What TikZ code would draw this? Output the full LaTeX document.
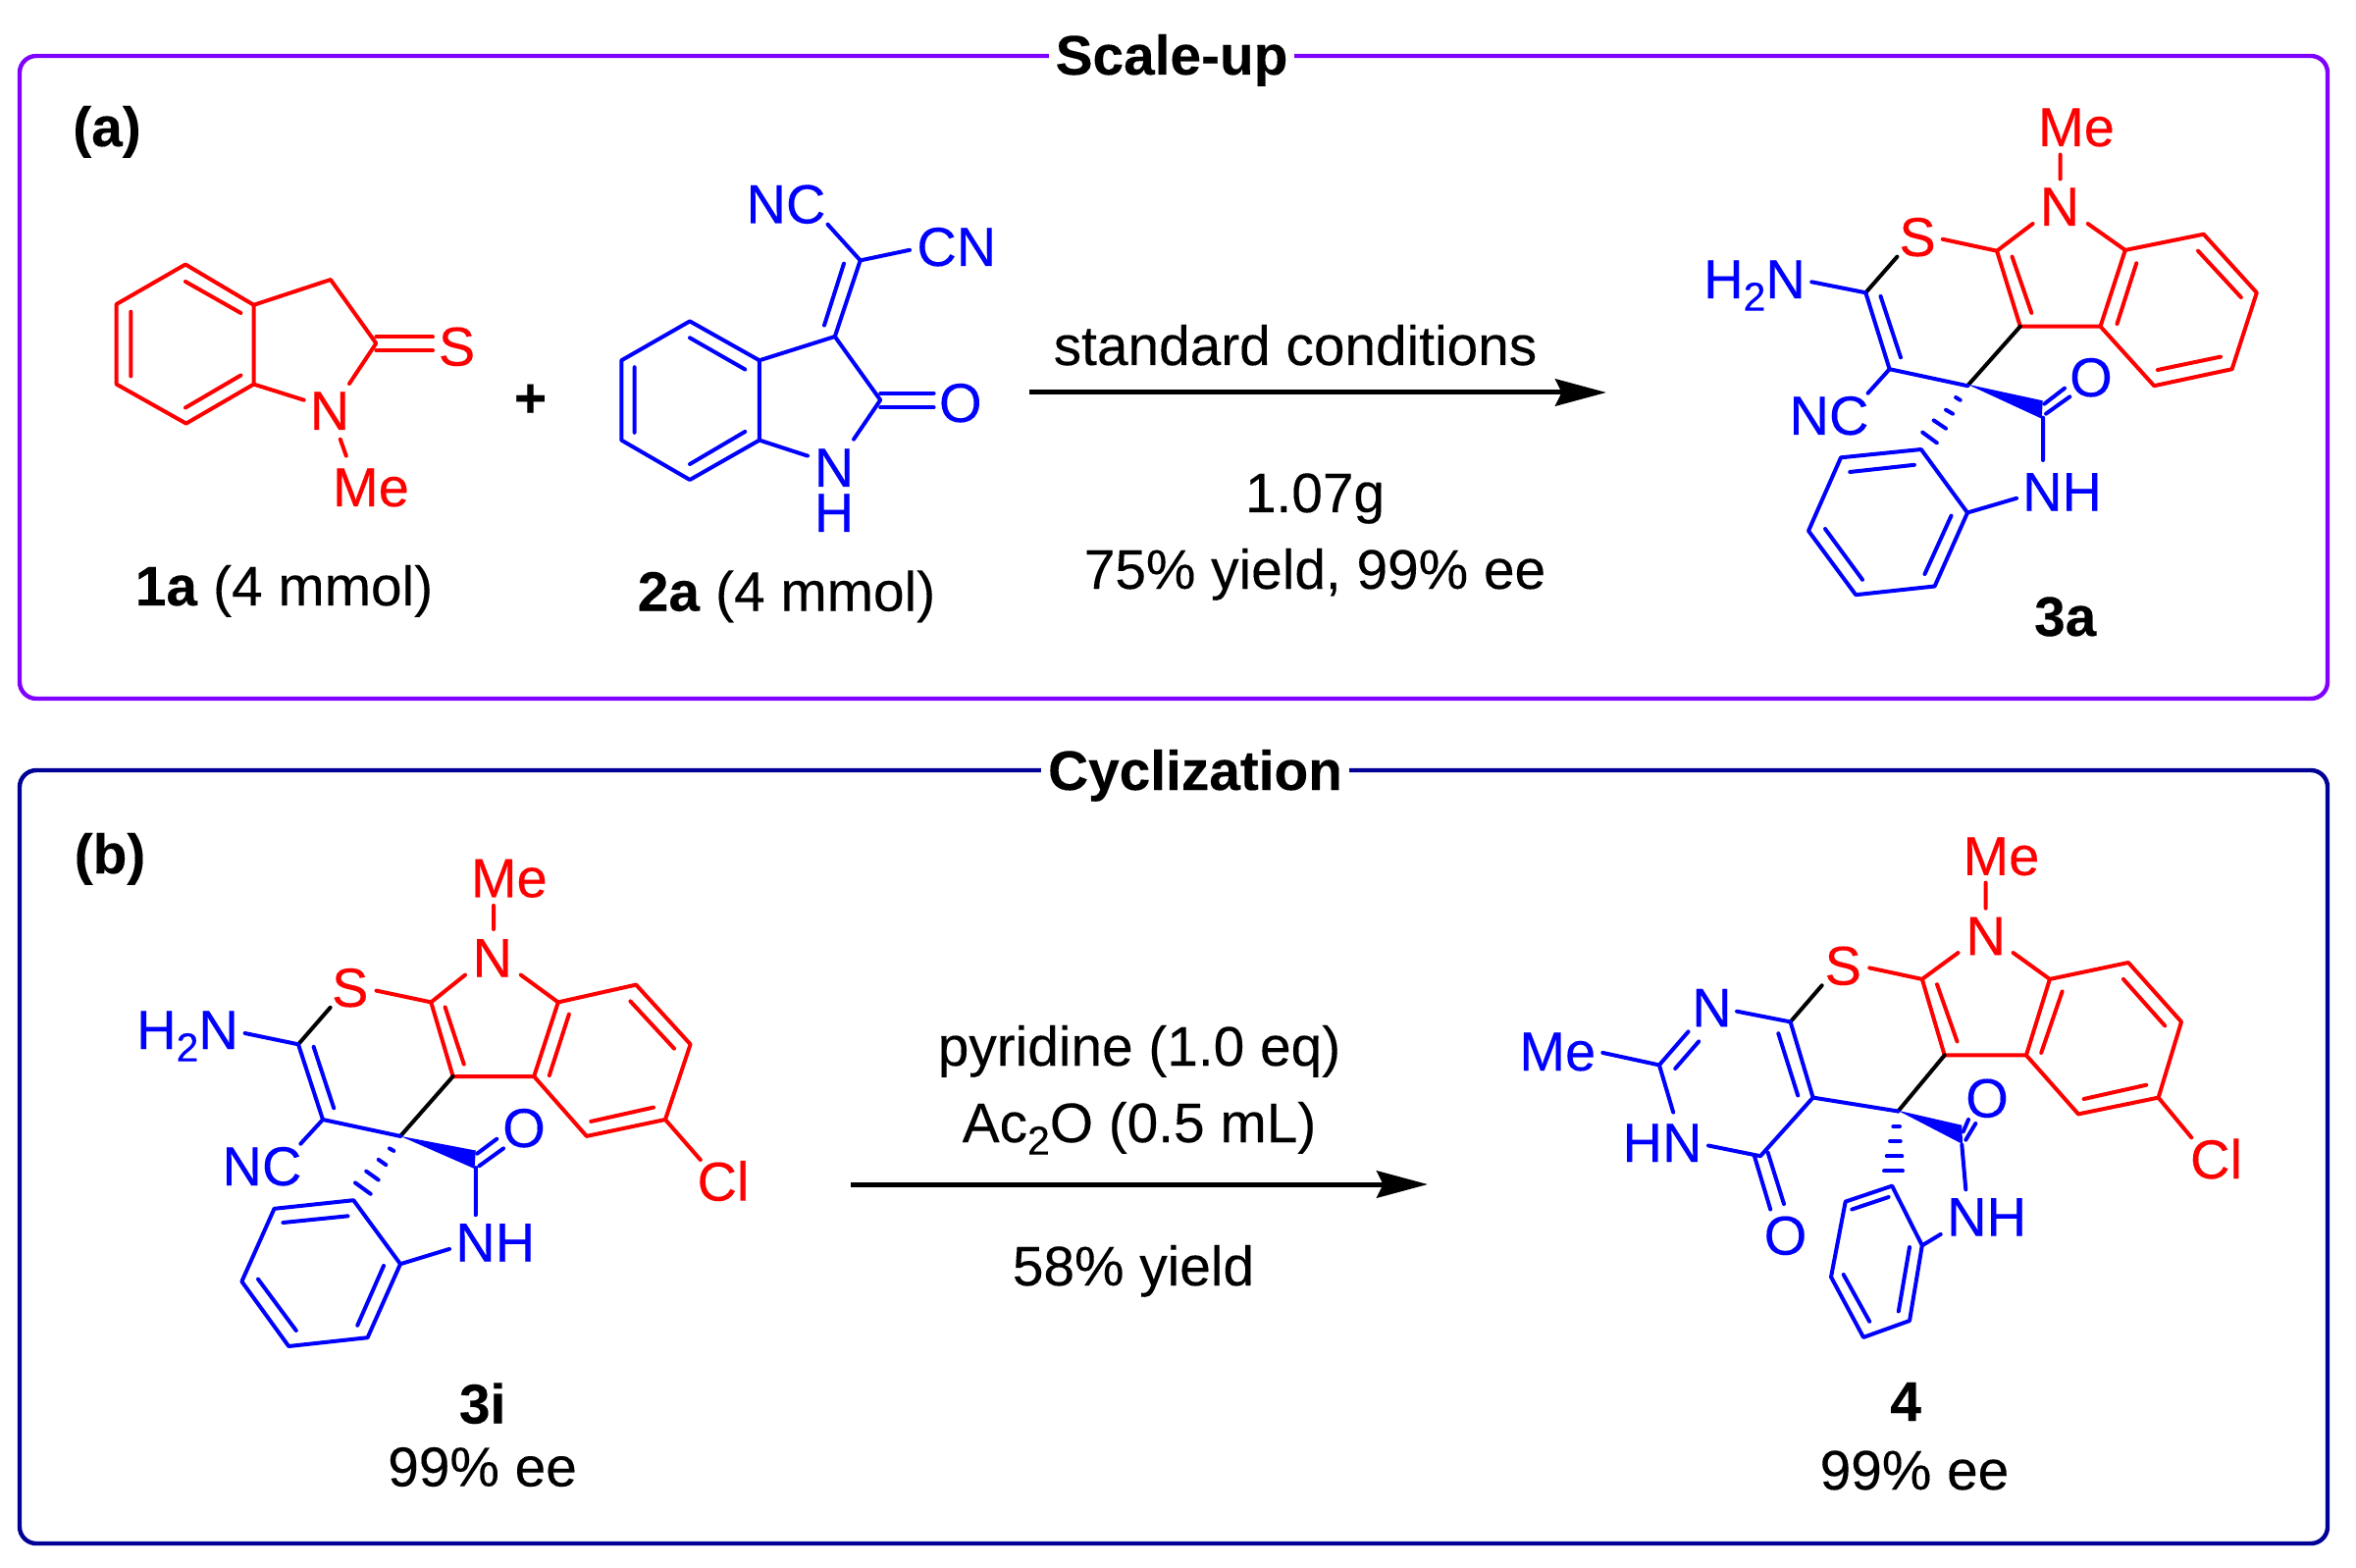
\documentclass[tikz,border=0pt]{standalone}
\usepackage{fontspec}
\setmainfont{Liberation Sans}[FakeBold=0.2]
\usetikzlibrary{arrows.meta}
\definecolor{framea}{RGB}{128,0,255}
\definecolor{frameb}{RGB}{0,0,150}
\definecolor{chemred}{RGB}{255,0,0}
\definecolor{chemblue}{RGB}{0,0,255}
\newcommand{\subdigit}[1]{\raisebox{-6.3pt}{\fontsize{20.5}{24}\selectfont #1}}
\tikzset{
  redbond/.style={draw=chemred,line width=2pt,line join=round,line cap=round},
  bluebond/.style={draw=chemblue,line width=2pt,line join=round,line cap=round},
  blackbond/.style={draw=black,line width=2pt,line cap=round},
  boxframe/.style={line width=2.2pt,rounded corners=8.5pt},
  txt/.style={inner sep=0pt,text height=20pt,text depth=0pt,font=\fontsize{28.4}{34}\selectfont},
  boldtxt/.style={txt,font=\fontsize{28.4}{34}\selectfont\bfseries},
  redatom/.style={txt,text=chemred,font=\fontsize{28}{33}\selectfont},
  blueatom/.style={txt,text=chemblue,font=\fontsize{28}{33}\selectfont},
  boxtitle/.style={boldtxt,fill=white,inner xsep=3.5pt,inner ysep=0pt},
  rxnarrow/.style={line width=2.5pt,-{Stealth[length=26pt,width=13.7pt,inset=3.3pt]}}
}
\begin{document}
\begin{tikzpicture}[x=0.5pt,y=0.5pt,yscale=-1,xscale=1]
\useasboundingbox (0,0) rectangle (2401,1598);
%Shape: frames
\draw [boxframe,framea] (20,57) rectangle (2372,712);
\draw [boxframe,frameb] (20,785) rectangle (2372,1573);
\node [boxtitle] (titlea) at (1194,56) {Scale-up};
\node [boxtitle] (titleb) at (1218,785) {Cyclization};
\node [boldtxt] (parta) at (109,129) {(a)};
\node [boldtxt] (partb) at (112,870) {(b)};
%Shape: compound 1a
\draw [redbond] (189,269.5) -- (118.7,310) -- (118.7,391.6) -- (189.7,431.6) -- (258.6,391.6) -- (258.6,310.8) -- cycle;
\draw [redbond] (189,287) -- (245.4,319) (133.3,317.7) -- (133.3,383.4) (189,415.5) -- (245.4,382.5);
\draw [redbond] (258.6,310.8) -- (336.9,285) -- (383.3,349.9) -- (356,391);
\draw [redbond] (258.6,391.6) -- (309.7,407.7) (346.8,447.7) -- (352.8,464.6);
\draw [redbond] (383.3,343.4) -- (441,343.4) (383.3,357.2) -- (441,357.2);
\node [redatom] (n1a) at (336,418) {N};
\node [redatom] (s1a) at (465.5,352.6) {S};
\node [redatom] (me1a) at (378,496) {Me};
\node [txt] (plus) at (540.5,405) {\textbf{+}};
\node [txt] (label1a) at (289.5,597) {\textbf{1a} (4 mmol)};
%Shape: compound 2a
\draw [bluebond] (703,327.4) -- (633.3,367.3) -- (633.3,448.6) -- (703,489) -- (773.9,448.6) -- (773.9,367.3) -- cycle;
\draw [bluebond] (703,344.3) -- (759.3,376.5) (646.6,374.2) -- (646.6,440.8) (703,473) -- (759.3,439.9);
\draw [bluebond] (773.9,367.3) -- (850.8,343) -- (897.2,407.7) -- (870,447.7) (773.9,448.6) -- (823,464.6);
\draw [bluebond] (850.8,343) -- (876.7,265.4) -- (843.5,228.7) (876.7,265.4) -- (927,254.8) (860,268.6) -- (840,331.5);
\draw [bluebond] (897.2,400.8) -- (951.6,400.8) (897.2,415.5) -- (951.6,415.5);
\node [blueatom] (nc2a) at (801,207.5) {NC};
\node [blueatom] (cn2a) at (974.8,251) {CN};
\node [blueatom] (o2a) at (978.8,410) {O};
\node [blueatom] (n2a) at (850,476) {N};
\node [blueatom] (h2a) at (850,522) {H};
\node [txt] (label2a) at (801.5,602.5) {\textbf{2a} (4 mmol)};
%Shape: arrow a
\coordinate (arrowastart) at (1049,400);
\coordinate (arrowaend) at (1637,400);
\draw [rxnarrow] (arrowastart) -- (arrowaend);
\node [txt] (conda) at (1320,352) {standard conditions};
\node [txt] (massa) at (1340,502) {1.07g};
\node [txt] (yielda) at (1340,580) {75\% yield, 99\% ee};
%Shape: compound 3a
\draw [redbond] (2035,255.7) -- (2058.8,332.7) -- (2140.5,332.7) -- (2165.8,254.9) -- (2245.7,238.7) -- (2299.8,298.3) -- (2274.6,376.2) -- (2195.2,393.2) -- (2140.5,332.7);
\draw [redbond] (1979.8,243.8) -- (2035,255.7) -- (2071.6,228) (2127.7,228) -- (2165.8,254.9) (2099.6,157.6) -- (2099.6,182.5);
\draw [redbond] (2050.5,261.6) -- (2070.3,318.9) (2177.2,268.3) -- (2157.5,330) (2240,255.7) -- (2283.8,303) (2263,363.6) -- (2198.8,377);
\draw [blackbond] (1901.3,298.3) -- (1933.4,261.6) (2005,393.2) -- (2058.8,332.7);
\draw [bluebond] (1846.2,287.3) -- (1901.3,298.3) -- (1925.6,376.2) -- (2005,393.2) (1925.6,376.2) -- (1903.6,400.7) (1916.5,301.9) -- (1937,364.3);
\fill [chemblue] (2005,391.7) -- (2081.7,408.3) -- (2080.7,426.7) -- cycle;
\draw [bluebond] (2083.3,411.7) -- (2104,395.7) (2085,421.7) -- (2109.3,404.3) (2082,425.6) -- (2082,469);
\draw [bluebond] (1993.1,405) -- (1997.7,407.8) (1983,417.7) -- (1990,421.7) (1970.6,428.4) -- (1983,436.7) (1959.2,440.6) -- (1973.8,451.3);
\draw [bluebond] (1957.8,458) -- (2005,522.5) -- (1971.6,597.5) -- (1891.2,606.2) -- (1843,541) -- (1876,466.3) -- cycle;
\draw [bluebond] (2005,522.5) -- (2055,507.8) (1885.2,481) -- (1950.9,473.8) (1860,539) -- (1898,590.8) (1988.5,525.6) -- (1961.5,585);
\node [redatom] (me3a) at (2116,129) {Me};
\node [redatom] (n3a) at (2099,210) {N};
\node [redatom] (s3a) at (1954,241) {S};
\node [blueatom] (nh23a) at (1788,284) {H\subdigit{2}N};
\node [blueatom] (nc3a) at (1864,423) {NC};
\node [blueatom] (o3a) at (2130.9,384) {O};
\node [blueatom] (nh3a) at (2101.5,500.7) {NH};
\node [boldtxt] (label3a) at (2104.7,628) {3a};
%Shape: compound 3i
\draw [redbond] (439.3,1021.4) -- (461.6,1097) -- (544.2,1097) -- (568.8,1021.4) -- (648.2,1003.6) -- (703.6,1064.3) -- (678,1141) -- (597.8,1157.9) -- (544.2,1097);
\draw [redbond] (383.5,1009.6) -- (439.3,1021.4) -- (474,993.6) (530.8,993.6) -- (568.8,1021.4) (503,922.9) -- (503,947) (678,1141) -- (713.8,1182);
\draw [redbond] (453.6,1026.4) -- (472.8,1084.6) (579.9,1033.6) -- (559.8,1096) (642.4,1020.4) -- (687,1068.6) (666,1128.6) -- (602.2,1142.9);
\draw [blackbond] (304,1064.3) -- (336.6,1026.8) (408,1157.9) -- (461.6,1097);
\draw [bluebond] (249.6,1053) -- (304,1064.3) -- (329,1141) -- (408,1157.9) (329,1141) -- (306.3,1165.7) (319.6,1066.8) -- (340.2,1129.3);
\fill [chemblue] (408,1157.9) -- (484.8,1172.5) -- (483.5,1191) -- cycle;
\draw [bluebond] (486.2,1175.7) -- (506.3,1160.7) (488.4,1188.2) -- (513,1170.4) (484.8,1190) -- (484.8,1238.2);
\draw [bluebond] (396.9,1170.4) -- (401.3,1172.9) (385.7,1181.8) -- (393.3,1187.1) (373.2,1193.6) -- (385.7,1202.5) (362,1205.4) -- (377.7,1216.8);
\draw [bluebond] (360.3,1223.2) -- (408,1288.2) -- (374.6,1363.2) -- (294.2,1372) -- (246.4,1306) -- (279.5,1231.8) -- cycle;
\draw [bluebond] (408,1288.2) -- (458,1272.9) (288.4,1246) -- (354.5,1239.3) (263,1303.6) -- (301.8,1356) (391,1290) -- (364.3,1350.7);
\node [redatom] (me3i) at (518.8,894.3) {Me};
\node [redatom] (n3i) at (501.8,975.7) {N};
\node [redatom] (s3i) at (356.7,1006) {S};
\node [redatom] (cl3i) at (737,1203.6) {Cl};
\node [blueatom] (nh23i) at (191,1049) {H\subdigit{2}N};
\node [blueatom] (nc3i) at (267,1188) {NC};
\node [blueatom] (o3i) at (534,1149) {O};
\node [blueatom] (nh3i) at (504.7,1265.7) {NH};
\node [boldtxt] (label3i) at (491.6,1430.5) {3i};
\node [txt] (ee3i) at (491.6,1494.6) {99\% ee};
%Shape: arrow b
\coordinate (arrowbstart) at (867,1207);
\coordinate (arrowbend) at (1455,1207);
\draw [rxnarrow] (arrowbstart) -- (arrowbend);
\node [txt] (condb) at (1161,1066) {pyridine (1.0 eq)};
\node [txt] (ac2o) at (1161,1144) {Ac\subdigit{2}O (0.5 mL)};
\node [txt] (yieldb) at (1155,1290) {58\% yield};
%Shape: compound 4
\draw [redbond] (1958.8,997.9) -- (1981.7,1075.4) -- (2064.9,1075.4) -- (2088.9,997.9) -- (2169,981) -- (2223,1041.4) -- (2199.6,1118.6) -- (2118,1135.4) -- (2064.9,1075.4);
\draw [redbond] (1905.2,986.4) -- (1958.8,997.9) -- (1995.5,971) (2051.6,971) -- (2088.9,997.9) (2023.6,899.6) -- (2023.6,925.7) (2199.6,1118.6) -- (2233.3,1159.3);
\draw [redbond] (1974,1003.2) -- (1994.5,1061.4) (2101.6,1010.4) -- (2080.2,1072.9) (2163.9,997.9) -- (2206.2,1045.4) (2187.3,1105.7) -- (2123.6,1120);
\draw [blackbond] (1824.6,1041.4) -- (1856.7,1004.3) (1934.3,1132.5) -- (1981.7,1075.4);
\draw [bluebond] (1770,1030.7) -- (1824.6,1041.4) -- (1847.6,1118.6) -- (1934.3,1132.5) (1847.6,1118.6) -- (1794,1178.2) -- (1741,1167.5) (1812.3,1053.2) -- (1832.2,1116.4);
\draw [bluebond] (1720.5,1051.4) -- (1690.9,1085.4) -- (1705.2,1133.6) (1690.9,1085.4) -- (1633.3,1072.9) (1707.2,1089) -- (1731.2,1061.4);
\draw [bluebond] (1787.9,1178.2) -- (1804.2,1232.5) (1801.6,1174.6) -- (1818,1227);
\fill [chemblue] (1934,1131.7) -- (1999.3,1146.7) -- (2000,1166) -- cycle;
\draw [bluebond] (2000.7,1153.3) -- (2006,1141) (2003.3,1161.7) -- (2013.3,1145) (1999.3,1166.7) -- (2003.3,1212.3);
\draw [bluebond] (1929.3,1148) -- (1936,1148) (1926,1163) -- (1936.7,1163) (1922.7,1178.3) -- (1938.3,1178.3) (1920,1193.3) -- (1939,1193.3);
\draw [bluebond] (1928.2,1208.6) -- (1958.8,1269.3) -- (1946,1346) -- (1899,1362.9) -- (1866,1301.4) -- (1880.7,1224.6) -- cycle;
\draw [bluebond] (1958.8,1269.3) -- (1977.7,1257.9) (1887.3,1232.5) -- (1924.6,1220) (1878.7,1299) -- (1905.2,1346.8) (1946,1271) -- (1934.8,1336.4);
\node [redatom] (me4) at (2039.4,871.8) {Me};
\node [redatom] (n4) at (2023.6,953.2) {N};
\node [redatom] (s4) at (1878.2,983.6) {S};
\node [redatom] (cl4) at (2258.5,1181) {Cl};
\node [blueatom] (me4b) at (1587.3,1071) {Me};
\node [blueatom] (n4b) at (1744.5,1026.4) {N};
\node [blueatom] (hn4) at (1694,1164) {HN};
\node [blueatom] (o4a) at (1819.5,1258.6) {O};
\node [blueatom] (o4b) at (2025,1118.6) {O};
\node [blueatom] (nh4) at (2024.6,1239.6) {NH};
\node [boldtxt] (label4) at (1942,1428) {4};
\node [txt] (ee4) at (1951,1498) {99\% ee};
\end{tikzpicture}
\end{document}
